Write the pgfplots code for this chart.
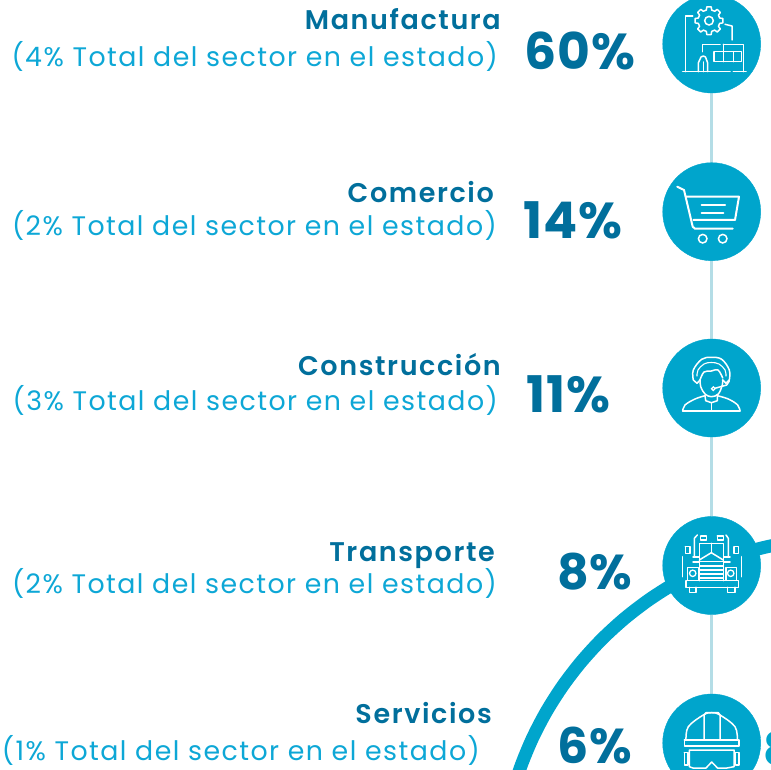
\documentclass[border=0pt]{standalone}
\usepackage{fontspec}
\usepackage{pgfplots}
\pgfplotsset{compat=1.18}
\setmainfont{Poppins}
\newfontfamily\subfont[LetterSpace=5.5]{Poppins}
\newfontfamily\titlefont[LetterSpace=6]{Poppins SemiBold}
\newfontfamily\bigfont[LetterSpace=2]{Poppins Bold}
\definecolor{disc}{HTML}{00A5CC}
\definecolor{stem}{HTML}{B4DDE6}
\definecolor{deep}{HTML}{016F9C}
\definecolor{soft}{HTML}{0DA7D6}
% icon strokes are in picture pixels
\newcommand{\ic}[1]{\addplot[white,line width=1.5pt,line join=round,line cap=round] coordinates {#1};}
\newcommand{\ics}[1]{\addplot[white,line width=1.5pt,smooth,tension=0.6,line cap=round] coordinates {#1};}
\newcommand{\sector}[3]{\node[anchor=base east,inner sep=0pt,text=deep,font=\titlefont\fontsize{27}{27}\selectfont] at (axis cs:#1,#2) {#3};}
\newcommand{\share}[3]{\node[anchor=base east,inner sep=0pt,text=soft,font=\subfont\fontsize{26.8}{26.8}\selectfont] at (axis cs:#1,#2) {(#3\% Total del sector en el estado)};}
\begin{document}
\begin{tikzpicture}
\useasboundingbox (0,0) rectangle (771pt,770pt);
\clip (0,0) rectangle (771pt,770pt);
\begin{axis}[
    scale only axis,
    width=771pt,
    height=770pt,
    xmin=0,xmax=771,
    ymin=0,ymax=770,
    y dir=reverse,
    hide axis,
    clip marker paths=true,
]
% connector
\addplot[stem,line width=3pt] coordinates {(711.7,44) (711.7,743)};
% arc
\addplot[disc,line width=13pt,smooth] coordinates {
    (511.5,795.8) (520.7,766.7) (532.3,738.6) (546.4,711.5) (562.8,685.8) (581.3,661.7) (601.9,639.2)
    (624.4,618.6) (648.5,600.1) (674.2,583.7) (701.3,569.6) (729.4,558.0) (758.5,548.8) (788.3,542.2)};
% discs
\addplot[disc,only marks,mark=*,mark size=49pt,mark options={draw=disc,fill=disc}] coordinates {
    (711.7,44) (711.7,211.7) (711.7,388) (711.7,565.5) (711.7,743)};
% factory
\ic{(682.7,71.7) (730,71.7)}
\ic{(733.3,71.7) (746,71.7)}
\ic{(685.7,71.7) (685.7,16) (692.7,16)}
\ic{(725,24.3) (732,26) (732,40)}
\ic{(719.67,18.04) (722.83,18.51) (722.83,22.89) (719.67,23.36) (718.43,26.37) (720.33,28.93) (717.23,32.03) (714.67,30.13)
    (711.66,31.37) (711.19,34.53) (706.81,34.53) (706.34,31.37) (703.33,30.13) (700.77,32.03) (697.67,28.93) (699.57,26.37)
    (698.33,23.36) (695.17,22.89) (695.17,18.51) (698.33,18.04) (699.57,15.03) (697.67,12.47) (700.77,9.37) (703.33,11.27)
    (706.34,10.03) (706.81,6.87) (711.19,6.87) (711.66,10.03) (714.67,11.27) (717.23,9.37) (720.33,12.47) (718.43,15.03) (719.67,18.04)}
\ic{(702.3,51.7) (702.3,44.3) (720,44.3)}
\ic{(723.3,44.3) (743.3,44.3) (743.3,71.7)}
\ic{(714,51.7) (741.7,51.7) (741.7,61.7) (714,61.7) (714,51.7)}
\ic{(723.3,44.3) (723.3,61.7)}
\ic{(733.3,51.7) (733.3,61.7)}
\ic{(698.3,71.7) (698.3,63) (701,57) (703.3,56) (705.5,57) (707.7,63) (707.7,71.7)}
\ic{(703.3,62) (703.3,71.7)}
% cart
\addplot[white,line width=2pt,line join=round,line cap=round] coordinates {(677.3,186.7) (684,190) (692.7,226.7) (695,228.7) (732.7,228.7)};
\addplot[white,line width=2pt,line join=round,line cap=round] coordinates {(685.7,196.7) (739,196.7) (735,220) (693.3,220)};
\addplot[white,line width=2pt,line cap=round] coordinates {(701.7,205) (725,205)};
\addplot[white,line width=2pt,line cap=round] coordinates {(701.7,213.3) (723.3,213.3)};
% headset
\ics{(682.7,411) (685,405) (695,399) (705,395.7)}
\ics{(717.3,395.7) (728.3,399) (737.7,405) (740,411)}
\ic{(682.7,411) (740,411)}
\ic{(711.3,402.7) (711.3,411)}
\ic{(705,395.7) (705.7,400.7) (711.3,402.7) (717.3,400.7) (717.3,395.7)}
\ics{(693.3,380) (693.3,370) (701.7,359.3) (711.3,357.3) (721.7,359.3) (729.3,370) (729.3,380)}
\addplot[white,line width=1.1pt,smooth,tension=0.6,line cap=round] coordinates {(697,376) (698,370) (704,364) (711.3,362.5) (719,364) (725,370) (726,376)};
\ics{(700,380) (700.7,386.7) (705,394) (711.3,396.7) (718.3,394) (722.3,385) (722.7,380)}
\ics{(700,380) (704,372) (711.3,371) (718,370) (722.7,378)}
\ic{(693.3,380) (697,383.3) (700,380)}
\ic{(729.3,380) (726,383.3) (722.7,380)}
\ic{(729.3,381) (726.7,385) (715,388.3)}
% truck
\ic{(686,580.7) (738.7,580.7) (738.7,587.3) (686,587.3) (686,580.7)}
\ic{(689.3,587.3) (689.3,592.7) (696,592.7) (696,587.3)}
\ic{(727.3,587.3) (727.3,592.7) (735,592.7) (735,587.3)}
\ic{(700,561.7) (722.7,561.7)}
\ic{(700,566) (722.7,566)}
\ic{(700,570) (722.7,570)}
\ic{(700,574) (722.7,574)}
\ic{(700,578) (722.7,578)}
\ic{(699.3,580.7) (699.3,543.3) (723.3,543.3) (723.3,580.7)}
\ic{(711.3,543.3) (711.3,552.7)}
\ic{(699.3,560) (711.3,552.7) (723.3,560)}
\ic{(687.7,580) (687.7,567.7) (698.3,567.7) (698.3,580)}
\ic{(726,580) (726,567.7) (736.7,567.7) (736.7,580)}
\ic{(685.3,546.7) (690,546.7) (690,553.3) (685.3,553.3) (685.3,546.7)}
\ic{(734,546.7) (738.7,546.7) (738.7,553.3) (734,553.3) (734,546.7)}
\ic{(700.7,536) (706.7,536) (706.7,540) (700.7,540) (700.7,536)}
\ic{(717.3,536) (723.3,536) (723.3,540) (717.3,540) (717.3,536)}
\ic{(694.3,556.7) (694.3,538.3) (697.3,535)}
\ic{(728.3,556.7) (728.3,538.3) (726,535)}
\ic{(682.7,556.7) (682.7,576.7)}
\ic{(741.3,556.7) (741.3,576.7)}
\ic{(693,557) (699,557)}
\ic{(693,562) (699,562)}
\ic{(724,557) (730,557)}
\ic{(724,562) (730,562)}
% helmet and goggles
\ics{(686,740) (688.3,726.7) (703.3,715) (711.7,712.7) (720,715) (735,726.7) (737.3,740)}
\ic{(684.3,740) (739,740) (739,746) (684.3,746) (684.3,740)}
\ic{(704,740) (704,715) (706,712.7) (718.3,712.7) (720,715) (720,740)}
\ic{(689.3,750) (734,750) (734,766.7) (727,768) (717.5,768) (711.7,762) (706,768) (693,768) (689.3,766.7) (689.3,750)}
\ic{(684.3,752.7) (688,752.7) (688,765) (684.3,765) (684.3,752.7)}
\ic{(735.5,752.7) (739,752.7) (739,765) (735.5,765) (735.5,752.7)}
% small rings on the icons
\addplot[white,only marks,mark=o,mark size=4.3pt,mark options={draw=white,line width=1.5pt}] coordinates {(709,20.7) (702.7,238.7) (722.7,238.7)};
\addplot[white,only marks,mark=o,mark size=3.2pt,mark options={draw=white,line width=1.3pt}] coordinates {(692.7,573.3) (730.7,573.3)};
\addplot[white,only marks,mark=o,mark size=1.8pt,mark options={draw=white,line width=1.2pt}] coordinates {(713.3,388.7)};
% shares
\addplot[only marks,mark=none,
    point meta=explicit,
    nodes near coords={\pgfmathprintnumber[fixed,precision=0]{\pgfplotspointmeta}\%},
    every node near coord/.append style={anchor=base west,inner sep=0pt,text=deep,
        font=\bigfont\fontsize{50.5}{50.5}\selectfont,
        /pgf/number format/assume math mode=true},
] table[meta=v] {
x y v
524.5 70 60
523 238 14
526 412 11
};
\addplot[only marks,mark=none,
    point meta=explicit,
    nodes near coords={\pgfmathprintnumber[fixed,precision=0]{\pgfplotspointmeta}\%},
    every node near coord/.append style={anchor=base west,inner sep=0pt,text=deep,
        font=\bigfont\fontsize{49}{49}\selectfont,
        /pgf/number format/assume math mode=true},
] table[meta=v] {
x y v
557 589 8
557 763 6
};
\sector{501}{30}{Manufactura}
\sector{494}{203}{Comercio}
\sector{501}{375}{Construcción}
\sector{495}{561}{Transporte}
\sector{492}{723}{Servicios}
\share{498}{67}{4}
\share{497}{236}{2}
\share{498}{410}{3}
\share{497}{593}{2}
\share{480}{760}{1}
\node[anchor=base west,inner sep=0pt,text=disc,font=\bigfont\fontsize{46}{46}\selectfont] at (axis cs:763,765) {8};
\end{axis}
\end{tikzpicture}
\end{document}
